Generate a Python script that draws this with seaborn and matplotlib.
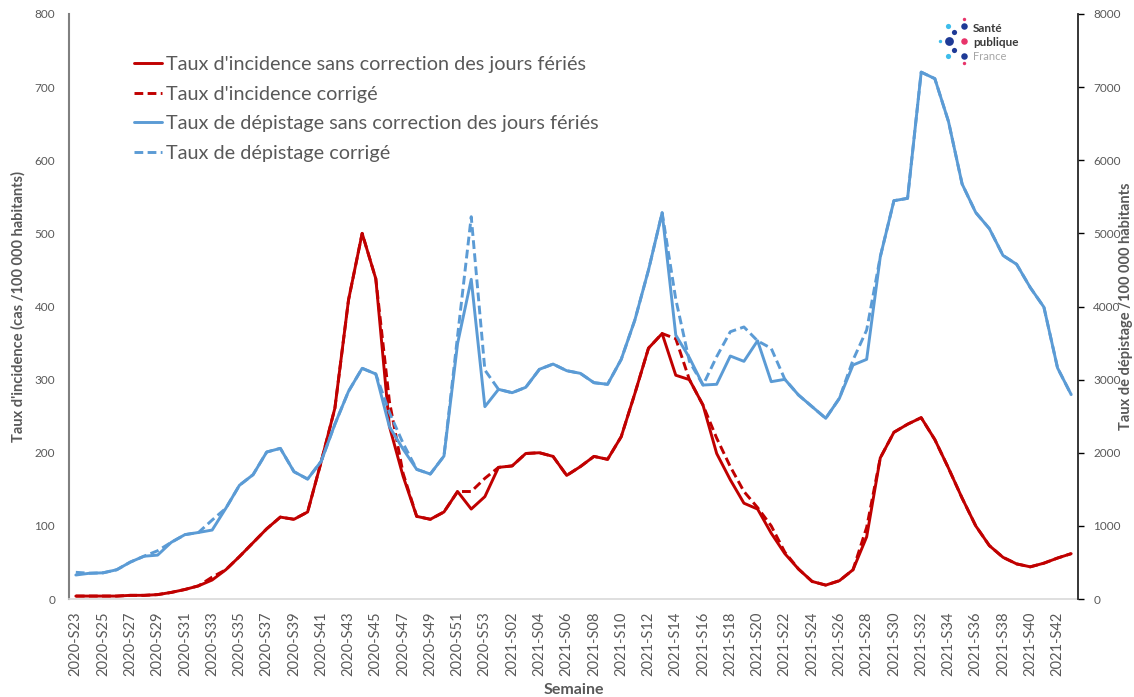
import numpy as np
import pandas as pd
import matplotlib
matplotlib.use("Agg")
import matplotlib.pyplot as plt
import seaborn as sns

# ---------------- data ----------------
weeks = [f"2020-S{w:02d}" for w in range(23, 54)] + [f"2021-S{w:02d}" for w in range(1, 44)]

incidence = [4, 4, 4, 4, 5, 5, 6, 9, 13, 18,
             26, 40, 58, 77, 96, 112, 109, 119, 188, 261,
             409, 500, 438, 236, 168, 113, 109, 119, 147, 123,
             140, 180, 182, 199, 200, 195, 169, 181, 195, 191,
             222, 281, 343, 363, 306, 300, 265, 199, 163, 131,
             123, 90, 62, 41, 24, 19, 25, 40, 85, 193,
             228, 239, 248, 218, 179, 138, 100, 73, 57, 48,
             44, 49, 56, 62]

incidence_corr = [4, 4, 4, 4, 5, 5, 6, 9, 13, 18,
                  30, 40, 58, 77, 96, 112, 109, 119, 188, 261,
                  409, 500, 438, 270, 172, 113, 109, 119, 147, 147,
                  165, 180, 182, 199, 200, 195, 169, 181, 195, 191,
                  222, 281, 343, 363, 356, 300, 265, 220, 181, 147,
                  125, 100, 64, 41, 24, 19, 25, 40, 98, 193,
                  228, 239, 248, 218, 179, 138, 100, 73, 57, 48,
                  44, 49, 56, 62]

depistage = [328, 352, 358, 400, 505, 585, 600, 775, 880, 910,
             943, 1240, 1555, 1700, 2010, 2060, 1741, 1640, 1885, 2390,
             2840, 3155, 3077, 2356, 2050, 1773, 1709, 1955, 3496, 4372,
             2630, 2867, 2821, 2895, 3141, 3213, 3122, 3086, 2958, 2936,
             3277, 3815, 4499, 5282, 3610, 3300, 2926, 2936, 3323, 3250,
             3532, 2972, 3004, 2790, 2630, 2471, 2744, 3200, 3277, 4681,
             5447, 5479, 7205, 7116, 6531, 5676, 5285, 5065, 4698, 4577,
             4259, 3991, 3160, 2795]

depistage_corr = [365, 352, 358, 400, 505, 585, 660, 775, 880, 910,
                  1080, 1240, 1555, 1700, 2010, 2060, 1741, 1640, 1885, 2390,
                  2840, 3155, 3077, 2550, 2130, 1773, 1709, 1955, 3600, 5228,
                  3131, 2867, 2821, 2895, 3141, 3213, 3122, 3086, 2958, 2936,
                  3277, 3815, 4499, 5282, 4100, 3250, 2926, 3314, 3655, 3720,
                  3530, 3428, 3004, 2790, 2630, 2471, 2744, 3268, 3678, 4681,
                  5447, 5479, 7205, 7116, 6531, 5676, 5285, 5065, 4698, 4577,
                  4259, 3991, 3160, 2795]

labels = ["Taux d'incidence sans correction des jours fériés",
          "Taux d'incidence corrigé",
          "Taux de dépistage sans correction des jours fériés",
          "Taux de dépistage corrigé"]

RED = "#C00000"
BLUE = "#5B9BD5"
GREY = "#595959"

df = pd.DataFrame({
    "pos": np.arange(len(weeks)),
    "week": weeks,
    "inc": incidence,
    "inc_c": incidence_corr,
    "dep": depistage,
    "dep_c": depistage_corr,
})

# ---------------- figure ----------------
sns.set_theme(style="white")
plt.rcParams["font.family"] = ["Lato", "DejaVu Sans"]

W, H = 1134, 697
fig = plt.figure(figsize=(W / 100, H / 100), dpi=100)
ax = fig.add_axes([69 / W, 1 - 599 / H, (1078 - 69) / W, (599 - 14) / H])
ax2 = ax.twinx()

lw = 2.1
dash = (3.0, 1.5)
sns.lineplot(data=df, x="pos", y="inc_c", ax=ax, color=RED, lw=lw,
             linestyle=(0, dash), label=labels[1], legend=False)
sns.lineplot(data=df, x="pos", y="inc", ax=ax, color=RED, lw=lw, label=labels[0], legend=False)
sns.lineplot(data=df, x="pos", y="dep_c", ax=ax2, color=BLUE, lw=lw,
             linestyle=(0, dash), label=labels[3], legend=False)
sns.lineplot(data=df, x="pos", y="dep", ax=ax2, color=BLUE, lw=lw, label=labels[2], legend=False)

ax.set_xlim(-0.5, len(weeks) - 0.5)
ax.set_ylim(0, 800)
ax2.set_ylim(0, 8000)
ax.set_yticks(np.arange(0, 801, 100))
ax2.set_yticks(np.arange(0, 8001, 1000))

ticks = np.arange(0, len(weeks), 2)
ax.set_xticks(ticks)
ax.set_xticklabels([weeks[i] for i in ticks], rotation=90, color=GREY, fontsize=10.6)

ax.tick_params(axis="y", length=0, pad=10, labelcolor=GREY, labelsize=8.5)
ax.tick_params(axis="x", length=0, pad=9)
ax2.tick_params(axis="y", length=4, width=1, color="black", direction="out", pad=7,
                labelcolor=GREY, labelsize=8.5, right=True)

for a in (ax, ax2):
    a.spines["top"].set_visible(False)
    a.grid(False)
ax.spines["left"].set_color("#808080")
ax.spines["left"].set_linewidth(1.5)
ax.spines["bottom"].set_color("#D9D9D9")
ax.spines["bottom"].set_linewidth(1.2)
ax.spines["right"].set_visible(False)
ax2.spines["left"].set_visible(False)
ax2.spines["bottom"].set_visible(False)
ax2.spines["right"].set_color("#262626")
ax2.spines["right"].set_linewidth(1.3)

ax.set_xlabel("Semaine", fontsize=11.5, fontweight="bold", color=GREY)
ax.xaxis.set_label_coords(0.5, -(690 - 599) / 585, transform=ax.transAxes)
ax.xaxis.label.set_va("center")
ax.set_ylabel("Taux d'incidence (cas /100 000 habitants)", fontsize=10.5,
              fontweight="bold", color=GREY)
ax.yaxis.set_label_coords((18 - 69) / 1009, 0.5)
ax.yaxis.label.set_va("center")
ax2.set_ylabel("Taux de dépistage /100 000 habitants", fontsize=10.5,
               fontweight="bold", color=GREY)
ax2.yaxis.set_label_coords((1126 - 69) / 1009, 0.5)
ax2.yaxis.label.set_va("center")

# legend
h1, l1 = ax.get_legend_handles_labels()
h2, l2 = ax2.get_legend_handles_labels()
hmap = dict(zip(l1 + l2, h1 + h2))
leg = ax2.legend([hmap[l] for l in labels], labels, loc="upper left",
                 bbox_to_anchor=(134 / W, 1 - 56 / H), bbox_transform=fig.transFigure,
                 frameon=False, fontsize=14.3, handlelength=1.4, handletextpad=0.2,
                 labelspacing=0.64, borderpad=0, borderaxespad=0)
for t in leg.get_texts():
    t.set_color(GREY)

# logo (decoration)
lax = fig.add_axes([930 / W, 1 - 68 / H, 110 / W, 56 / H])
lax.set_xlim(930, 1040)
lax.set_ylim(68, 12)
lax.axis("off")
dots = [(948.3, 25.7, 14, "#3DBDEB"), (953.7, 32.3, 14, "#1E3A96"), (963.7, 26, 22, "#1E3A96"),
        (963.7, 19.3, 6, "#E8336A"), (948.7, 41, 40, "#1E3A96"), (940.3, 41, 6, "#3DBDEB"),
        (963.7, 41, 22, "#E8336A"), (953.7, 49.7, 14, "#1E3A96"), (948.3, 56.3, 14, "#3DBDEB"),
        (963.7, 55.7, 22, "#1E3A96"), (963.7, 62.7, 6, "#E8336A")]
for x, y, s, c in dots:
    lax.scatter([x], [y], s=s, color=c, linewidths=0)
lax.text(973, 29, "Santé", fontsize=8.5, fontweight="bold", color="#3A3A3A", va="center")
lax.text(973, 42, "publique", fontsize=8.5, fontweight="bold", color="#3A3A3A", va="center")
lax.text(973, 56, "France", fontsize=8, color="#A6A6A6", va="center")

fig.savefig("out.png", dpi=100)
